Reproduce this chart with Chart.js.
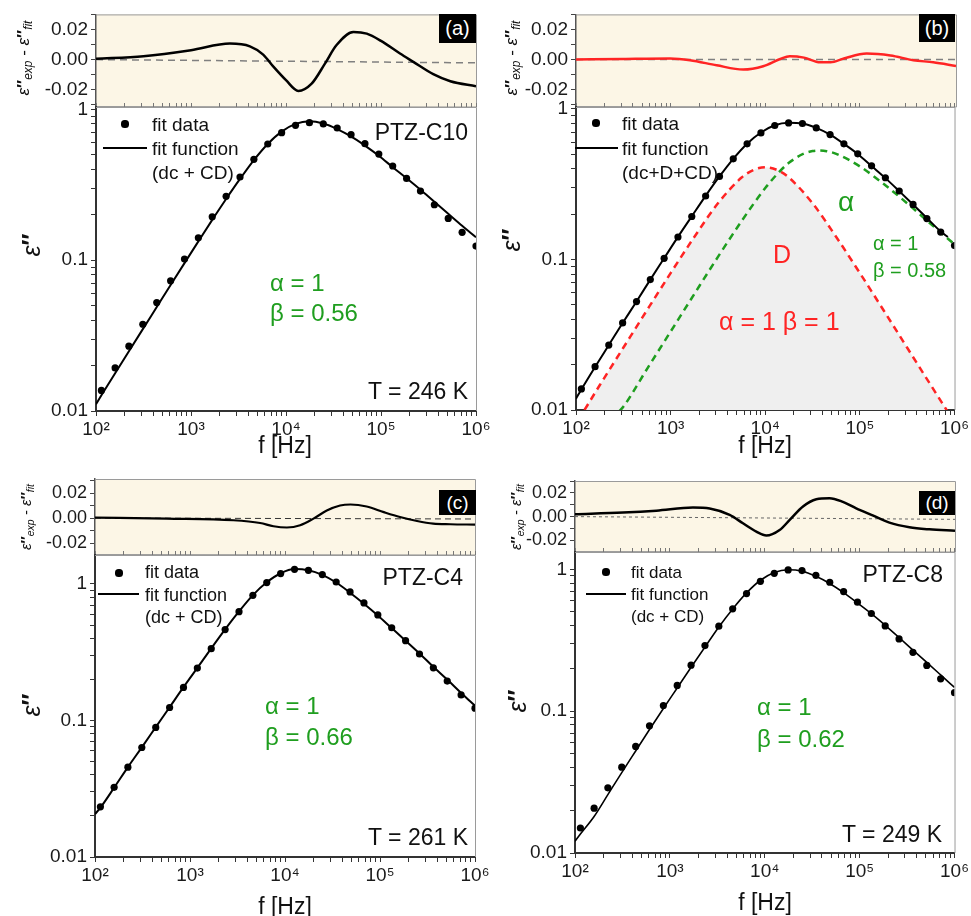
<!DOCTYPE html>
<html>
<head>
<meta charset="utf-8">
<script src="https://cdn.jsdelivr.net/npm/chart.js@4.4.1/dist/chart.umd.min.js"></script>
<style>
  html, body { margin:0; padding:0; background:#fff; }
  #page { position:relative; width:971px; height:916px; overflow:hidden; font-family:'Liberation Sans', Arial, sans-serif; }
  #page canvas { position:absolute; left:0; top:0; }
  .lbl { position:absolute; white-space:nowrap; line-height:1; }
  .lbl sub { font-size:70%; vertical-align:-0.3em; line-height:0; }
</style>
</head>
<body>
<div id="page"></div>
<script>
// ---------------- data ----------------
const FREQ = [114, 159, 222, 311, 436, 610, 854, 1195, 1673, 2343, 3280, 4591, 6428, 8999, 12599, 17639, 24694, 34572, 48400, 67760, 94864, 132810, 185934, 260308, 364431, 510204, 714286, 1000000];
const FIT_FREQ = [100, 114, 159, 222, 311, 436, 610, 854, 1195, 1673, 2343, 3280, 4591, 6428, 8999, 12599, 17639, 24694, 34572, 48400, 67760, 94864, 132810, 185934, 260308, 364431, 510204, 714286, 1000000];
const FIT_FREQ_B = [100, 114, 159, 222, 311, 436, 610, 854, 1195, 1673, 2343, 3280, 4591, 6428, 8999, 12599, 17639, 24694, 34572, 48400, 67760, 94864, 132810, 185934, 260308, 364431, 510204, 714286, 850000];

const EXP_A = [0.0137, 0.0193, 0.0269, 0.0376, 0.0524, 0.0729, 0.1016, 0.1407, 0.194, 0.265, 0.356, 0.466, 0.589, 0.700, 0.783, 0.816, 0.800, 0.752, 0.679, 0.592, 0.505, 0.421, 0.348, 0.287, 0.233, 0.189, 0.153, 0.124];
const FIT_A = [0.0111, 0.0127, 0.0178, 0.0249, 0.0349, 0.0489, 0.0684, 0.0956, 0.1332, 0.185, 0.2545, 0.3455, 0.461, 0.5895, 0.711, 0.80, 0.833, 0.805, 0.740, 0.661, 0.5745, 0.492, 0.4135, 0.349, 0.293, 0.2435, 0.203, 0.169, 0.1417];

const EXP_B = [0.0138, 0.0194, 0.0270, 0.0379, 0.0525, 0.0735, 0.1018, 0.141, 0.193, 0.264, 0.356, 0.466, 0.586, 0.693, 0.776, 0.807, 0.800, 0.748, 0.676, 0.586, 0.503, 0.419, 0.349, 0.285, 0.232, 0.187, 0.152, 0.1236];
const FIT_B = [0.0119, 0.0137, 0.0193, 0.0270, 0.0378, 0.0526, 0.0735, 0.1019, 0.1412, 0.1935, 0.2645, 0.356, 0.4665, 0.5875, 0.697, 0.779, 0.809, 0.800, 0.7485, 0.675, 0.586, 0.502, 0.417, 0.347, 0.2845, 0.232, 0.1885, 0.1535, 0.141];
const D_FREQ = [123, 178, 316, 562, 1000, 1778, 3162, 5623, 7499, 10000, 13335, 17783, 31623, 56234, 100000, 177828, 316228, 562341, 851000];
const D_B = [0.0100, 0.0146, 0.0259, 0.046, 0.0812, 0.141, 0.236, 0.350, 0.393, 0.410, 0.393, 0.350, 0.236, 0.141, 0.0812, 0.046, 0.0259, 0.0146, 0.0097];
const CD_FREQ = [286, 316, 562, 1000, 1778, 3162, 5623, 10000, 14125, 17783, 25119, 31623, 37154, 44668, 56234, 100000, 177828, 316228, 562341, 1000000];
const CD_B = [0.0098, 0.0105, 0.0187, 0.0332, 0.0589, 0.104, 0.180, 0.298, 0.383, 0.4385, 0.502, 0.525, 0.530, 0.524, 0.503, 0.415, 0.318, 0.236, 0.172, 0.126];

const EXP_C = [0.0233, 0.0324, 0.0455, 0.0634, 0.0889, 0.1245, 0.1746, 0.242, 0.336, 0.463, 0.627, 0.826, 1.023, 1.191, 1.281, 1.259, 1.171, 1.034, 0.874, 0.726, 0.593, 0.478, 0.384, 0.307, 0.243, 0.1944, 0.154, 0.123];
const FIT_C = [0.0206, 0.0230, 0.0322, 0.0455, 0.0636, 0.0893, 0.1251, 0.1755, 0.2432, 0.3374, 0.4646, 0.6289, 0.829, 1.0285, 1.1985, 1.2876, 1.2615, 1.167, 1.0245, 0.8632, 0.7163, 0.5875, 0.475, 0.3843, 0.310, 0.2475, 0.1994, 0.1592, 0.1283];

const EXP_D = [0.0150, 0.0207, 0.0288, 0.0403, 0.0564, 0.0788, 0.1096, 0.1517, 0.211, 0.290, 0.397, 0.526, 0.674, 0.823, 0.937, 0.989, 0.979, 0.907, 0.810, 0.696, 0.586, 0.488, 0.399, 0.323, 0.260, 0.210, 0.169, 0.135];
const FIT_D = [0.0121, 0.0136, 0.0181, 0.0258, 0.0369, 0.0524, 0.0742, 0.1043, 0.1457, 0.2037, 0.2828, 0.392, 0.5255, 0.6815, 0.837, 0.9505, 0.993, 0.971, 0.8924, 0.7945, 0.684, 0.5785, 0.4865, 0.403, 0.3305, 0.2695, 0.2205, 0.180, 0.1468];

// residuals  (eps''exp - eps''fit)
const RES_FREQ_A = [100, 316, 1000, 2570, 4170, 5750, 7410, 10000, 13490, 18620, 25700, 33900, 51300, 70800, 100000, 158500, 218800, 354800, 537000, 1000000];
const RES_A = [0.0005, 0.0022, 0.0062, 0.0106, 0.0088, 0.0033, -0.0049, -0.0137, -0.0208, -0.016, -0.0027, 0.0095, 0.0183, 0.0172, 0.0124, 0.004, -0.0015, -0.0097, -0.0144, -0.0177];
const RES_FREQ_B = [100, 316, 977, 1585, 3020, 5754, 9333, 14125, 17783, 25119, 37154, 47863, 66069, 114815, 204174, 354813, 575440, 1000000];
const RES_B = [0, 0.0004, 0.0007, -0.0004, -0.0038, -0.0066, -0.0044, 0.0004, 0.0022, 0.0013, -0.0018, -0.0018, 0.0007, 0.004, 0.0027, -0.0004, -0.0018, -0.0042];
const RES_FREQ_C = [100, 569, 2864, 5470, 7568, 10471, 14454, 19953, 27542, 38019, 48978, 72444, 109648, 162181, 245471, 363078, 549541, 1000000];
const RES_C = [0.0003, -0.0005, -0.0018, -0.004, -0.0066, -0.0076, -0.0058, -0.0005, 0.006, 0.010, 0.0108, 0.0092, 0.0047, 0.0008, -0.0024, -0.0045, -0.005, -0.0053];
const RES_FREQ_D = [100, 320, 718, 1746, 2618, 4246, 5861, 8110, 10328, 14256, 18197, 25119, 34674, 47863, 66069, 91201, 138038, 204174, 331131, 537032, 1000000];
const RES_D = [0.002, 0.0034, 0.005, 0.0076, 0.0068, 0.0014, -0.0056, -0.0127, -0.016, -0.0113, -0.0028, 0.0085, 0.0146, 0.0155, 0.0124, 0.007, 0.0008, -0.0051, -0.009, -0.0107, -0.0118];
const BASE_FREQ = [100, 1000000];
const BASE_A = [0, -0.0022];
const BASE_B = [0, 0];
const BASE_C = [0, -0.0008];
const BASE_D = [0, -0.0023];

// tick labels
const X_MAJOR = [100, 1000, 10000, 100000, 1000000];
const X_LABELS = ['10²', '10³', '10⁴', '10⁵', '10⁶'];
const Y_MAJOR = [0.01, 0.1, 1];
const Y_LABELS = ['0.01', '0.1', '1'];
const RES_TICKS = [-0.03, -0.02, -0.01, 0, 0.01, 0.02, 0.03];
const RES_LABELS = ['', '-0.02', '', '0.00', '', '0.02', ''];

// ---------------- helpers ----------------
const FONT = "'Liberation Sans', Arial, sans-serif";
Chart.defaults.font.family = FONT;
const W = 971, H = 916, YW = 60, XH = 30;
const GREEN = '#1f9e1f', RED = '#ff2424';
const page = document.getElementById('page');

function pts(xs, ys) { return xs.map((x, i) => ({ x: x, y: ys[i] })); }
function logTickList(majors, max) {
  const out = [];
  majors.forEach(m => { for (let k = 1; k <= 9; k++) { const v = k === 1 ? m : m * k; if (v <= max * 1.0001) out.push(v); } });
  return out;
}
const X_TICKS = logTickList(X_MAJOR, 1000000);

function framePlugin(kind) {
  return {
    id: 'frame' + kind,
    beforeDraw(c) {
      if (kind === 'res') {
        const a = c.chartArea, ctx = c.ctx;
        ctx.save(); ctx.fillStyle = '#fcf6e6'; ctx.fillRect(a.left, a.top, a.width, a.height); ctx.restore();
      }
    },
    afterDraw(c) {
      const a = c.chartArea, ctx = c.ctx;
      ctx.save(); ctx.strokeStyle = '#9a9a9a'; ctx.lineWidth = 1;
      ctx.beginPath();
      ctx.moveTo(a.left, a.top + 0.5); ctx.lineTo(a.right + 0.5, a.top + 0.5);
      ctx.lineTo(a.right + 0.5, a.bottom);
      if (kind === 'res') { ctx.lineTo(a.left, a.bottom - 0.5); }
      ctx.stroke(); ctx.restore();
    }
  };
}

function newCanvas() {
  const cv = document.createElement('canvas');
  cv.width = W; cv.height = H; page.appendChild(cv); return cv;
}

function resChart(rect, datasets) {
  new Chart(newCanvas(), {
    type: 'line',
    data: { datasets: datasets },
    options: {
      responsive: false, animation: false, events: [],
      layout: { padding: { left: rect.l - YW, top: rect.t, right: W - rect.r, bottom: H - rect.b } },
      plugins: { legend: { display: false }, tooltip: { enabled: false } },
      scales: {
        x: { type: 'logarithmic', min: 100, max: 1000000, display: false },
        y: {
          type: 'linear', min: rect.min, max: rect.max,
          afterFit(s) { s.width = YW; },
          afterBuildTicks(s) { s.ticks = RES_TICKS.filter(v => v >= rect.min - 1e-9 && v <= rect.max + 1e-9).map(v => ({ value: v })); },
          ticks: {
            autoSkip: false, padding: 3, color: '#1a1a1a', font: { size: rect.fs || 19 },
            callback(v) { const i = RES_TICKS.indexOf(v); return i >= 0 ? RES_LABELS[i] : ''; }
          },
          grid: { drawOnChartArea: false, drawTicks: true, tickLength: 5, color: '#444', tickWidth: 1 },
          border: { display: true, color: '#555', width: 1.5 }
        }
      }
    },
    plugins: [framePlugin('res')]
  });
}

function mainChart(rect, datasets) {
  const yTicks = logTickList(Y_MAJOR, rect.max);
  new Chart(newCanvas(), {
    type: 'line',
    data: { datasets: datasets },
    options: {
      responsive: false, animation: false, events: [],
      layout: { padding: { left: rect.l - YW, top: rect.t, right: W - rect.r, bottom: H - rect.b - XH } },
      plugins: { legend: { display: false }, tooltip: { enabled: false } },
      scales: {
        x: {
          type: 'logarithmic', min: 100, max: 1000000, position: 'bottom',
          afterFit(s) { s.height = XH; },
          afterBuildTicks(s) { s.ticks = X_TICKS.map(v => ({ value: v })); },
          ticks: {
            autoSkip: false, maxRotation: 0, padding: 2, color: '#1a1a1a', font: { size: 19 },
            callback(v) { const i = X_MAJOR.indexOf(v); return i >= 0 ? X_LABELS[i] : ''; }
          },
          grid: { drawOnChartArea: false, drawTicks: true, tickLength: 5, color: '#333', tickWidth: 1 },
          border: { display: true, color: '#333', width: 2 }
        },
        xTop: {
          type: 'logarithmic', min: 100, max: 1000000, position: 'top',
          afterFit(s) { s.height = 0; },
          afterBuildTicks(s) { s.ticks = X_TICKS.map(v => ({ value: v })); },
          ticks: { display: false },
          grid: { drawOnChartArea: false, drawTicks: true, tickLength: 4, color: '#777', tickWidth: 1 },
          border: { display: false }
        },
        y: {
          type: 'logarithmic', min: 0.01, max: rect.max,
          afterFit(s) { s.width = YW; },
          afterBuildTicks(s) { s.ticks = yTicks.map(v => ({ value: v })); },
          ticks: {
            autoSkip: false, padding: 3, color: '#1a1a1a', font: { size: 19 },
            callback(v) { const i = Y_MAJOR.indexOf(v); return i >= 0 ? Y_LABELS[i] : ''; }
          },
          grid: { drawOnChartArea: false, drawTicks: true, tickLength: 5, color: '#333', tickWidth: 1 },
          border: { display: true, color: '#333', width: 2 }
        }
      }
    },
    plugins: [framePlugin('main')]
  });
}

function dots(ys) {
  return { label: 'fit data', data: pts(FREQ, ys), showLine: false, pointRadius: 3.6, pointBackgroundColor: '#000', pointBorderWidth: 0, borderColor: '#000' };
}
function line(xs, ys, color, width, dash, extra) {
  return Object.assign({ data: pts(xs, ys), borderColor: color, borderWidth: width, borderDash: dash || [], pointRadius: 0, cubicInterpolationMode: 'monotone', fill: false }, extra || {});
}

// ---------------- layout rectangles (page pixels) ----------------
const RECTS = [
  { res: { l: 96, r: 476, t: 14, b: 107, min: -0.0315, max: 0.03 }, main: { l: 96, r: 476, t: 107, b: 411, max: 1.036 } },
  { res: { l: 576, r: 956, t: 14, b: 107, min: -0.0315, max: 0.03 }, main: { l: 576, r: 956, t: 107, b: 410, max: 1.03 } },
  { res: { l: 95, r: 475, t: 479, b: 555, min: -0.0296, max: 0.0312, fs: 18 }, main: { l: 95, r: 475, t: 555, b: 857, max: 1.63 } },
  { res: { l: 575, r: 955, t: 481, b: 552, min: -0.0298, max: 0.030, fs: 18 }, main: { l: 575, r: 955, t: 552, b: 853, max: 1.324 } }
];

// panel a
resChart(RECTS[0].res, [
  line(RES_FREQ_A, RES_A, '#000', 2.5),
  line(BASE_FREQ, BASE_A, '#808080', 1.5, [7, 5])
]);
mainChart(RECTS[0].main, [
  dots(EXP_A),
  line(FIT_FREQ, FIT_A, '#000', 2, null, { label: 'fit function (dc + CD)' })
]);
// panel b
resChart(RECTS[1].res, [
  line(RES_FREQ_B, RES_B, RED, 2.5),
  line(BASE_FREQ, BASE_B, '#808080', 1.5, [7, 5])
]);
mainChart(RECTS[1].main, [
  dots(EXP_B),
  line(FIT_FREQ_B, FIT_B, '#000', 2, null, { label: 'fit function (dc+D+CD)' }),
  line(CD_FREQ, CD_B, GREEN, 2.5, [7, 5], { label: 'CD' }),
  line(D_FREQ, D_B, RED, 2.5, [7, 5], { label: 'D', fill: 'start', backgroundColor: '#efefef' })
]);
// panel c
resChart(RECTS[2].res, [
  line(RES_FREQ_C, RES_C, '#000', 2.2),
  line(BASE_FREQ, BASE_C, '#333', 1, [6, 4])
]);
mainChart(RECTS[2].main, [
  dots(EXP_C),
  line(FIT_FREQ, FIT_C, '#000', 2, null, { label: 'fit function (dc + CD)' })
]);
// panel d
resChart(RECTS[3].res, [
  line(RES_FREQ_D, RES_D, '#000', 2.5),
  line(BASE_FREQ, BASE_D, '#666', 1, [3, 3])
]);
mainChart(RECTS[3].main, [
  dots(EXP_D),
  line(FIT_FREQ, FIT_D, '#000', 1.6, null, { label: 'fit function (dc + CD)' })
]);

// ---------------- text overlays ----------------
function label(html, x, y, o) {
  o = o || {};
  const d = document.createElement('div');
  d.className = 'lbl';
  d.innerHTML = html;
  d.style.fontSize = (o.size || 19) + 'px';
  d.style.color = o.color || '#111';
  d.style.top = y + 'px';
  let tr = 'translateY(-50%)';
  if (o.align === 'right') { d.style.right = (W - x) + 'px'; }
  else if (o.align === 'center') { d.style.left = x + 'px'; tr = 'translate(-50%,-50%)'; }
  else { d.style.left = x + 'px'; }
  if (o.rotate) { d.style.left = x + 'px'; d.style.right = ''; tr = 'translate(-50%,-50%) rotate(-90deg)'; }
  d.style.transform = tr;
  if (o.style) Object.assign(d.style, o.style);
  page.appendChild(d);
  return d;
}
function box(x1, y1, x2, y2, color, round) {
  const d = document.createElement('div');
  Object.assign(d.style, { position: 'absolute', left: x1 + 'px', top: y1 + 'px', width: (x2 - x1) + 'px', height: (y2 - y1) + 'px', background: color });
  if (round) d.style.borderRadius = '50%';
  page.appendChild(d);
  return d;
}
function legend(dotX, dotY, lx1, lx2, ly, tx, rows, size) {
  box(dotX - 3.6, dotY - 3.6, dotX + 3.6, dotY + 3.6, '#000', true);
  box(lx1, ly - 1, lx2, ly + 1, '#000');
  label('fit data', tx, rows[0], { size: size });
  label('fit function', tx, rows[1], { size: size });
  label(rows[3], tx, rows[2], { size: size });
}
function panelTag(txt, x1, y1, x2, y2, size) {
  const d = box(x1, y1, x2, y2, '#000');
  Object.assign(d.style, { color: '#fff', fontSize: size + 'px', lineHeight: (y2 - y1) + 'px', textAlign: 'center', fontFamily: FONT });
  d.textContent = txt;
}
const RES_TITLE = '<i>ε</i><b>″</b><sub><i>exp</i></sub> - <i>ε</i><b>″</b><sub><i>fit</i></sub>';
const EPS_TITLE = '<i>ε</i><b>″</b>';

// axis titles
label(RES_TITLE, 23, 58, { size: 17, rotate: true });
label(RES_TITLE, 511, 58, { size: 17, rotate: true });
label(RES_TITLE, 25, 517, { size: 15, rotate: true });
label(RES_TITLE, 515, 517, { size: 15, rotate: true });
label(EPS_TITLE, 31, 245, { size: 25, rotate: true });
label(EPS_TITLE, 511, 240, { size: 25, rotate: true });
label(EPS_TITLE, 31, 705, { size: 25, rotate: true });
label(EPS_TITLE, 517, 701, { size: 25, rotate: true });
label('f [Hz]', 285, 445, { size: 23, align: 'center' });
label('f [Hz]', 765, 445, { size: 23, align: 'center' });
label('f [Hz]', 285, 906, { size: 23, align: 'center' });
label('f [Hz]', 765, 902, { size: 23, align: 'center' });

// panel tags
panelTag('(a)', 439, 14, 476, 43, 20);
panelTag('(b)', 919, 14, 955, 42, 20);
panelTag('(c)', 439, 490, 476, 515, 19);
panelTag('(d)', 919, 491, 955, 515, 19);

// legends
legend(125, 124, 103, 147, 148, 152, [124, 148, 172, '(dc + CD)'], 19);
legend(596, 123, 575, 618, 148, 622, [123, 148, 172, '(dc+D+CD)'], 19);
legend(119, 573, 98, 139, 594, 145, [572, 595, 617, '(dc + CD)'], 18);
legend(606, 572, 586, 626, 594, 631, [572, 594, 616, '(dc + CD)'], 17);

// panel a annotations
label('PTZ-C10', 468, 132, { size: 23, align: 'right' });
label('T = 246 K', 468, 391, { size: 23, align: 'right' });
label('α = 1', 270, 283, { size: 24, color: GREEN });
label('β = 0.56', 270, 313, { size: 24, color: GREEN });
// panel b annotations
label('α', 838, 202, { size: 28, color: GREEN });
label('D', 773, 254, { size: 25, color: RED });
label('α = 1 β = 1', 719, 321, { size: 25, color: RED });
label('α = 1', 873, 243, { size: 20, color: GREEN });
label('β = 0.58', 873, 270, { size: 20, color: GREEN });
// panel c annotations
label('PTZ-C4', 463, 577, { size: 23, align: 'right' });
label('T = 261 K', 468, 837, { size: 23, align: 'right' });
label('α = 1', 265, 706, { size: 24, color: GREEN });
label('β = 0.66', 265, 737, { size: 24, color: GREEN });
// panel d annotations
label('PTZ-C8', 943, 574, { size: 23, align: 'right' });
label('T = 249 K', 942, 834, { size: 23, align: 'right' });
label('α = 1', 757, 707, { size: 24, color: GREEN });
label('β = 0.62', 757, 739, { size: 24, color: GREEN });
</script>
</body>
</html>
